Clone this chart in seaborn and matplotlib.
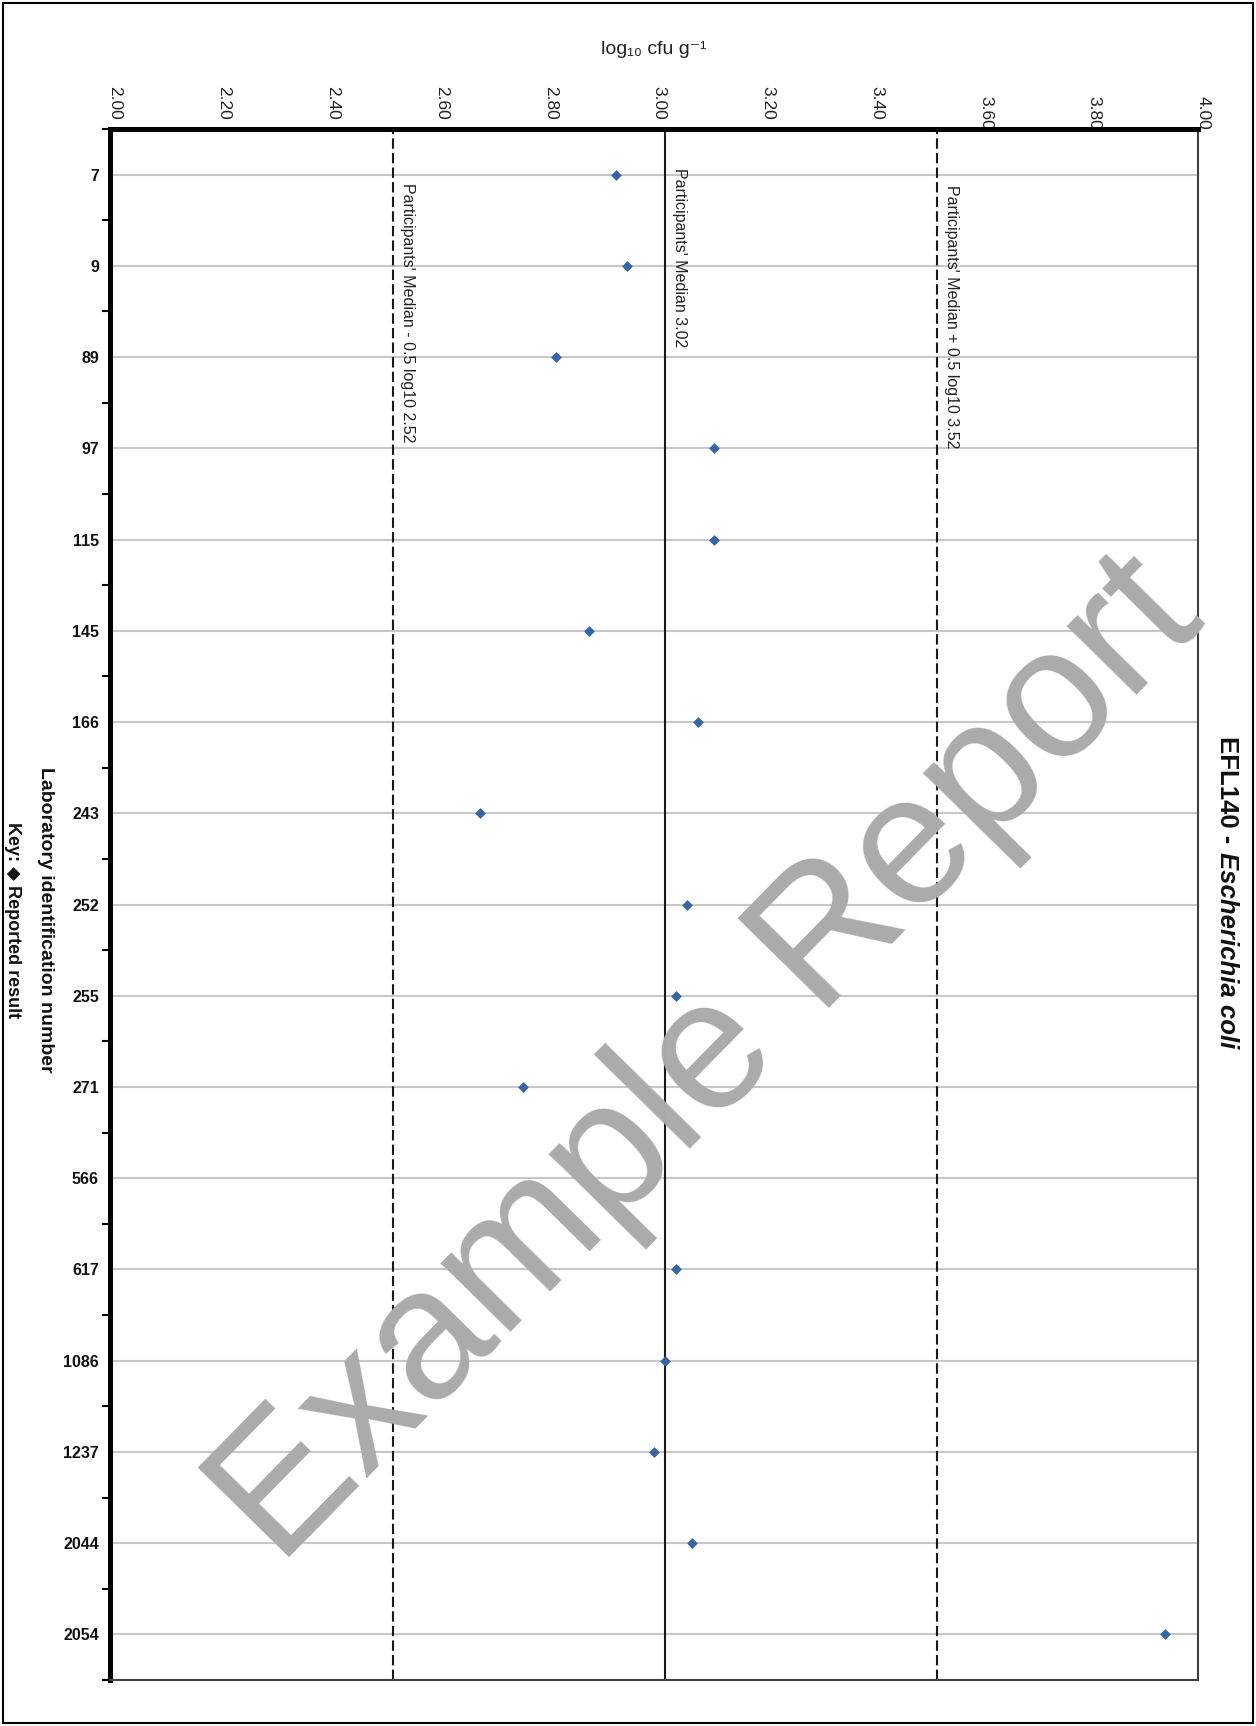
import matplotlib
matplotlib.use('Agg')
import matplotlib.pyplot as plt
from matplotlib.patches import Rectangle
from matplotlib.ticker import FixedLocator
from matplotlib.transforms import ScaledTranslation
import seaborn as sns
import pandas as pd
import numpy as np

# Data
lab_ids = ['7', '9', '89', '97', '115', '145', '166', '243', '252', '255',
           '271', '566', '617', '1086', '1237', '2044', '2054']
results = [2.93, 2.95, 2.82, 3.11, 3.11, 2.88, 3.08, 2.68, 3.06, 3.04,
           2.76, np.nan, 3.04, 3.02, 3.00, 3.07, 3.94]
median = 3.02
lower_limit = 2.52
upper_limit = 3.52
x_ticks = [2.00, 2.20, 2.40, 2.60, 2.80, 3.00, 3.20, 3.40, 3.60, 3.80, 4.00]

# Style
sns.set_theme(style='white')
plt.rcParams['font.family'] = ['Liberation Sans', 'DejaVu Sans']

W, H = 1256, 1726
fig = plt.figure(figsize=(W / 100, H / 100), dpi=100)
fig.patch.set_facecolor('white')
ax = fig.add_axes([110 / W, 1 - 1680 / H, 1088 / W, 1551 / H])

df = pd.DataFrame({'lab': lab_ids, 'result': results})
sns.stripplot(data=df, x='result', y='lab', order=lab_ids, jitter=False,
              marker='D', size=5.5, color='#3765a4', linewidth=0, ax=ax, zorder=4)

ax.set_xlim(2.0, 4.0)
ax.set_ylim(len(lab_ids) - 0.5, -0.5)
ax.set_xlabel('')
ax.set_ylabel('')
ax.set_facecolor('white')

# grid + reference lines
ax.set_axisbelow(True)
ax.grid(axis='y', color='#c8c8c8', lw=1.5)
ax.grid(axis='x', visible=False)
ax.axvline(median, color='#1a1a1a', lw=1.5, zorder=2)
for lim in (lower_limit, upper_limit):
    ax.axvline(lim, color='#1a1a1a', lw=1.5, ls=(0, (5, 2)), zorder=2)

ann_kw = dict(rotation=-90, ha='left', va='top', fontsize=11.5, color='#222222', zorder=3)
ax.text(lower_limit + 0.014, 0.09, f"Participants' Median - 0.5 log10 {lower_limit:.2f}", **ann_kw)
ax.text(median + 0.013, -0.07, f"Participants' Median {median:.2f}", **ann_kw)
ax.text(upper_limit + 0.014, 0.11, f"Participants' Median + 0.5 log10 {upper_limit:.2f}", **ann_kw)

# spines
for side in ('left', 'top'):
    ax.spines[side].set_linewidth(3.6)
    ax.spines[side].set_color('black')
for side in ('right', 'bottom'):
    ax.spines[side].set_linewidth(1.5)
    ax.spines[side].set_color('#404040')

# x axis on top, rotated labels
ax.xaxis.tick_top()
ax.set_xticks(x_ticks)
ax.set_xticklabels([f'{t:.2f}' for t in x_ticks])
ax.tick_params(axis='x', which='both', length=0, pad=7, labelsize=12.5,
               labelrotation=-90, labelcolor='#222222')

# y axis: bold lab ids, ticks between rows
ax.tick_params(axis='y', which='major', length=0, pad=8, labelsize=11.5, labelcolor='#111111')
for lbl in ax.get_yticklabels():
    lbl.set_fontweight('bold')
ax.yaxis.set_minor_locator(FixedLocator(np.arange(-0.5, len(lab_ids), 1.0)))
ax.tick_params(axis='y', which='minor', left=True, length=5.8, width=1.5,
               color='black', direction='out')

# top labels sit a bit right of their ticks; the last three also lower
for i, lbl in enumerate(ax.get_xticklabels()):
    dy = -10 if i >= len(x_ticks) - 3 else 0
    lbl.set_transform(lbl.get_transform() + ScaledTranslation(5 / 100, dy / 100, fig.dpi_scale_trans))

# texts around the plot
fig.text(654 / W, 1 - 50 / H, 'log₁₀ cfu g⁻¹', ha='center', va='center',
         fontsize=14, color='#222222')
fig.text(45 / W, 1 - 920 / H, 'Laboratory identification number', rotation=-90,
         ha='center', va='center', fontsize=14, fontweight='bold', color='#111111')
fig.text(12 / W, 1 - 920 / H, 'Key: ◆ Reported result', rotation=-90,
         ha='center', va='center', fontsize=13, fontweight='bold', color='#111111')

t1 = fig.text(1227 / W, 1 - 736 / H, 'EFL140 -', rotation=-90, ha='center', va='top',
              fontsize=18.5, fontweight='bold', color='#111111')
ax.annotate('Escherichia coli', xy=(0.5, 0), xycoords=t1, xytext=(0, -6),
            textcoords='offset points', rotation=-90, ha='center', va='top',
            fontsize=18.5, fontweight='bold', fontstyle='italic', color='#111111',
            annotation_clip=False)

# watermark
fig.text(279 / W, 1 - 1568 / H, 'Example Report', rotation=45.5, rotation_mode='anchor',
         ha='left', va='baseline', fontsize=133, color='#ababab', zorder=10)

# page frame
fig.add_artist(Rectangle((3 / W, 3 / H), 1250 / W, 1720 / H, transform=fig.transFigure,
                         fill=False, ec='black', lw=1.5))

fig.savefig('out.png', dpi=100)
